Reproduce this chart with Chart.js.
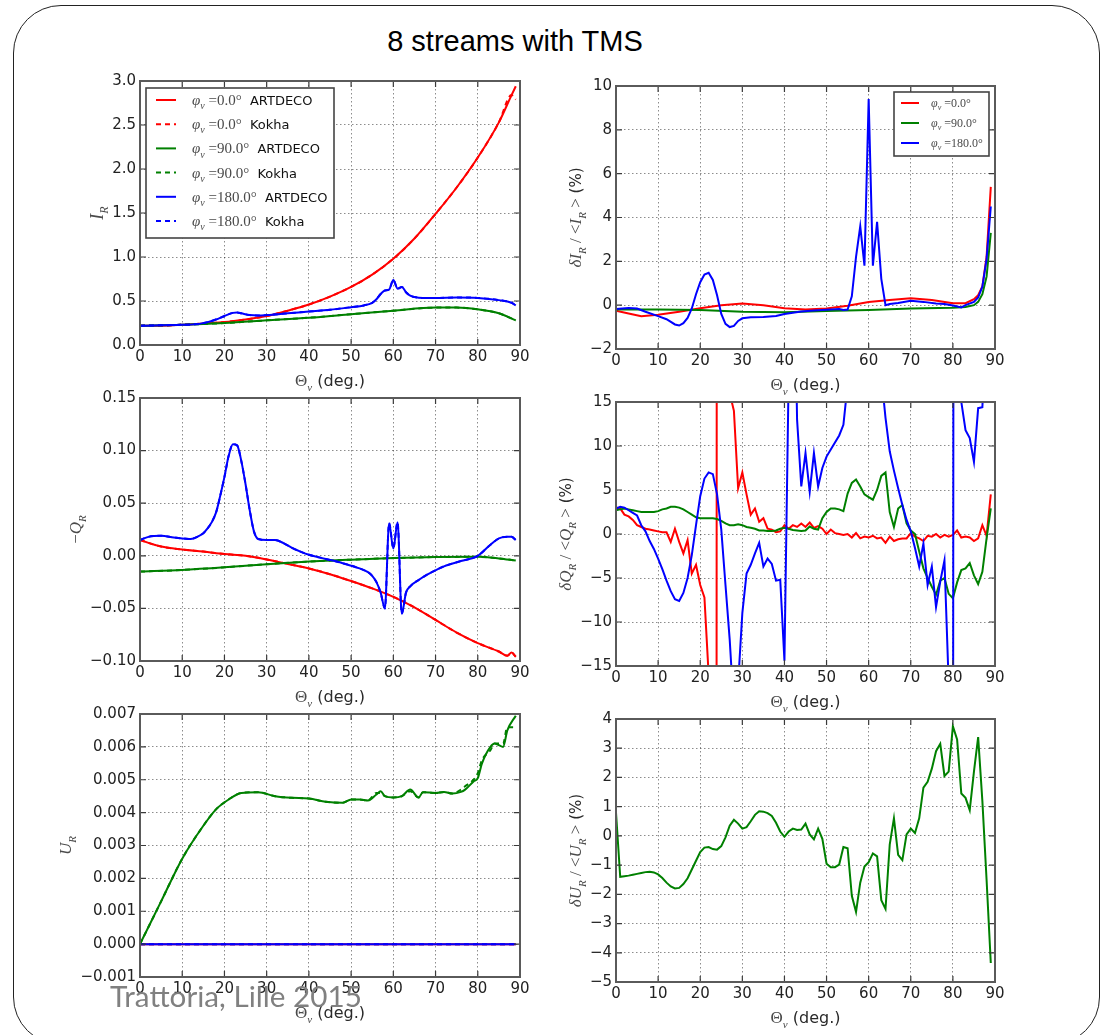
<!DOCTYPE html>
<html>
<head>
<meta charset="utf-8">
<title>8 streams with TMS</title>
<script src="https://cdn.jsdelivr.net/npm/chart.js@4.4.1/dist/chart.umd.min.js"></script>
<style>
  html, body { margin: 0; padding: 0; background: #fff; }
  #page { position: relative; width: 1103px; height: 1035px; overflow: hidden; background: #fff; }
  #frame { position: absolute; left: 13px; top: 5px; width: 1087px; height: 1040px;
           border: 1.5px solid #222; border-radius: 48px; box-sizing: border-box; }
  #title { position: absolute; left: 0; top: 27px; width: 1030px; text-align: center;
           font: 29px/29px "Liberation Sans", Arial, sans-serif; color: #000; }
  #footer { position: absolute; left: 110px; top: 980px; font: 28px/1.2 Lato, "Open Sans", sans-serif;
            color: #808080; white-space: nowrap; transform-origin: 0 0; z-index: 5; }
  canvas { position: absolute; z-index: 1; }
</style>
</head>
<body>
<div id="page">
  <div id="frame"></div>
  <div id="title">8 streams with TMS</div>
  <div id="footer">Trattoria, Lille 2015</div>
</div>
<script>
// ---------------------------------------------------------------------------
// Data: viewing zenith angle (deg) and the Stokes quantities for each azimuth
// ---------------------------------------------------------------------------
const THETA_1DEG = Array.from({ length: 90 }, (_, i) => i);

const PHI_VALUES = [0, 90, 180];
const PHI_LABELS = ['0.0', '90.0', '180.0'];
const MODELS = ['ARTDECO', 'Kokha'];

// I_R
const IR_RED_ANG = [0,5,10,15,20,25,30,35,40,45,50,55,60,65,70,75,80,85,88,89];
const IR_RED     = [0.22,0.22,0.23,0.245,0.26,0.29,0.33,0.39,0.46,0.55,0.66,0.80,0.98,1.21,1.49,1.79,2.13,2.53,2.84,2.94];
const IR_RED_K   = [0.22,0.22,0.23,0.245,0.26,0.29,0.33,0.39,0.46,0.55,0.66,0.80,0.98,1.21,1.49,1.79,2.13,2.53,2.84,2.79];
const IR_GRN_ANG = [0,10,20,30,40,50,60,70,75,80,85,89];
const IR_GRN     = [0.22,0.23,0.25,0.28,0.31,0.35,0.39,0.425,0.425,0.405,0.36,0.28];
const IR_BLU_ANG = [0,10,14,16,18,20,22,23,24,26,28,30,35,40,45,50,53,55,56,57,58,59,60,61,62,63,64,65,67,70,75,80,85,88,89];
const IR_BLU     = [0.22,0.23,0.24,0.26,0.29,0.33,0.365,0.37,0.36,0.34,0.335,0.34,0.36,0.38,0.40,0.43,0.45,0.48,0.52,0.58,
                    0.62,0.63,0.74,0.64,0.66,0.60,0.56,0.545,0.535,0.535,0.54,0.535,0.51,0.48,0.45];

// relative difference of I_R (%)
const DIR_RED_ANG = [0,3,6,10,15,20,25,30,35,40,45,50,55,60,65,70,75,80,83,85,86,87,88,89];
const DIR_RED     = [-0.25,-0.38,-0.5,-0.44,-0.3,-0.14,0.0,0.08,0.0,-0.14,-0.2,-0.15,-0.03,0.14,0.24,0.32,0.24,0.09,0.09,0.27,0.45,0.85,2.2,5.4];
const DIR_GRN_ANG = [0,10,20,30,40,50,60,70,80,83,85,86,87,88,89];
const DIR_GRN     = [-0.2,-0.2,-0.22,-0.3,-0.32,-0.27,-0.22,-0.15,-0.12,-0.08,0.0,0.15,0.5,1.3,3.3];
const DIR_BLU_ANG = [0,3,5,7,10,12,14,15,16,17,18,19,20,21,22,23,24,25,26,27,28,29,30,32,35,38,40,44,47,50,
                     53,54,55,56,57,58,59,60,61,62,63,64,65,67,70,73,76,78,80,82,83,85,86,87,88,89];
const DIR_BLU     = [-0.18,-0.13,-0.15,-0.3,-0.5,-0.64,-0.88,-0.93,-0.82,-0.58,-0.15,0.5,1.05,1.4,1.48,1.15,0.45,-0.4,-0.85,-1.0,
                     -0.95,-0.72,-0.6,-0.55,-0.54,-0.49,-0.4,-0.29,-0.24,-0.21,-0.18,-0.22,-0.2,0.4,2.2,3.6,1.8,9.4,1.8,3.8,
                     1.2,0.0,0.05,0.1,0.2,0.15,0.08,0.05,-0.02,-0.1,0.0,0.15,0.35,0.85,2.1,4.5];

// -Q_R
const QR_RED_ANG = [0,5,10,15,20,25,30,35,40,45,50,55,60,65,70,75,80,85,87,88,89];
const QR_RED     = [0.015,0.0088,0.006,0.004,0.0017,0.0,-0.0035,-0.0077,-0.012,-0.0175,-0.024,-0.031,-0.039,-0.049,-0.061,-0.073,-0.083,-0.091,-0.095,-0.092,-0.096];
const QR_GRN_ANG = [0,10,20,30,40,50,60,70,80,85,89];
const QR_GRN     = [-0.015,-0.0135,-0.011,-0.008,-0.0055,-0.0037,-0.0022,-0.0012,-0.001,-0.0025,-0.0045];
const QR_BLU_ANG = [0,2,5,8,12,14,15,16,17,18,19,20,21,22,23,24,25,26,27,28,30,32,34,36,38,40,44,48,52,54,
                    55,56,57,58,59,60,61,62,63,64,66,68,72,76,80,83,85,87,88,89];
const QR_BLU     = [0.015,0.018,0.019,0.0175,0.016,0.019,0.0215,0.026,0.032,0.041,0.057,0.075,0.095,0.106,0.105,0.09,0.068,0.043,0.023,0.016,
                    0.015,0.015,0.012,0.0075,0.004,0.001,-0.003,-0.007,-0.012,-0.0156,-0.019,-0.025,-0.035,-0.05,0.031,0.007,0.032,-0.055,-0.035,-0.029,
                    -0.023,-0.018,-0.01,-0.005,0.0,0.0105,0.0165,0.018,0.018,0.015];

// relative difference of Q_R (%), one value per degree
const DQ_RED = [3.0,2.9,2.2,2.0,1.6,1.0,0.8,0.6,0.5,0.4,
                0.3,0.2,0.2,-0.9,0.6,-0.9,-2.2,-0.7,-4.5,-3.5,
                -5.8,-7.2,-16,-900,100,60,25,16,14,5.2,
                7.0,4.5,2.2,2.9,1.4,1.8,0.6,0.5,0.2,0.3,
                1.0,0.6,1.0,0.8,1.2,0.8,1.3,0.7,0.9,0.6,
                0.0,0.5,0.1,0.0,-0.1,0.0,-0.4,0.1,-0.5,-0.3,
                -0.4,-0.2,-0.5,-0.4,-1.0,-0.3,-0.8,-0.6,-0.5,-0.5,
                0.1,-0.3,-0.5,-0.8,-0.2,-0.3,0.0,-0.4,-0.1,-0.3,
                -0.1,0.4,-0.4,-0.3,-0.4,-0.8,-0.5,1.0,-0.2,4.5];
const DQ_GRN = [2.7,2.8,2.9,2.8,2.7,2.6,2.5,2.5,2.5,2.5,
                2.6,2.8,2.9,3.1,3.1,3.0,2.8,2.5,2.2,1.9,
                1.8,1.8,1.8,1.8,1.7,1.5,1.2,1.0,1.0,1.1,
                1.0,0.8,0.7,0.6,0.4,0.4,0.35,0.35,0.4,0.6,
                0.7,0.6,0.45,0.4,0.35,0.4,0.85,0.6,0.5,1.8,
                2.5,2.9,2.9,2.8,2.6,4.6,5.8,6.2,5.4,4.5,
                4.2,3.9,5.0,6.6,7.0,2.5,0.8,2.9,3.3,1.2,
                0.4,0.0,-2.0,-3.9,-5.0,-6.0,-6.9,-5.3,-5.0,-6.8,
                -7.3,-5.5,-4.1,-3.9,-3.3,-4.7,-5.7,-4.3,-0.5,2.9];
const DQ_BLU = [2.9,3.1,3.0,2.7,2.4,2.1,1.0,0.3,-0.8,-1.7,
                -2.8,-4.0,-5.3,-6.5,-7.4,-7.6,-6.7,-5.0,-2.4,1.0,
                4.3,6.3,7.0,6.8,4.5,0.5,-5.8,-12,-20,-17,
                -9,-4.5,-3.5,-2.2,-1.0,-3.7,-2.8,-3.4,-5.3,-5.2,
                -14.4,18,40,13,5.4,9.2,4.8,9.2,5.4,7.5,
                8.8,9.6,10.4,11.2,12.4,17,25,35,45,60,
                45,35,25,18,13.2,9.4,7.2,5.2,3.3,1.6,
                0.3,-1.6,-3.7,-1.1,-5.8,-3.7,-8.3,-5.4,-3.0,-17,
                -60,600,15,11.8,10.9,8.2,14.3,14.4,25,40];

// U_R
const UR_GRN_ANG = [0,5,10,15,18,21,24,28,32,36,40,44,48,50,52,54,56,57,58,60,62,64,66,67,70,72,74,76,77,79,80,81,83,84,86,87,89];
const UR_GRN     = [0,0.0013,0.0026,0.0036,0.0041,0.0044,0.0046,0.00462,0.0045,0.00445,
                    0.00443,0.00433,0.0043,0.0044,0.0044,0.00437,0.00455,0.00465,0.0045,0.00446,
                    0.0045,0.0047,0.00446,0.00462,0.0046,0.00463,0.00458,0.00463,0.0047,0.00495,
                    0.00505,0.0055,0.006,0.0061,0.006,0.0065,0.00695];
const UR_GRN_K   = [0,0.0013,0.0026,0.0036,0.0041,0.0044,0.0046,0.00462,0.0045,0.00445,
                    0.00443,0.00433,0.0043,0.0044,0.0044,0.00437,0.0046,0.0046,0.0045,0.00446,
                    0.0045,0.00465,0.00446,0.00462,0.0046,0.00463,0.00458,0.0047,0.0048,0.005,
                    0.0052,0.0056,0.0059,0.0061,0.0061,0.0066,0.0066];
const UR_ZERO_ANG = [0, 89];
const UR_ZERO     = [0, 0];

// relative difference of U_R (%), one value per degree
const DU_GRN = [0.8,-1.4,-1.38,-1.36,-1.33,-1.3,-1.27,-1.24,-1.23,-1.25,
                -1.32,-1.44,-1.6,-1.73,-1.8,-1.78,-1.65,-1.45,-1.15,-0.85,
                -0.55,-0.4,-0.38,-0.45,-0.47,-0.35,-0.05,0.35,0.55,0.42,
                0.25,0.3,0.5,0.72,0.84,0.83,0.78,0.68,0.45,0.15,
                -0.03,0.15,0.25,0.2,0.22,0.42,0.05,-0.12,0.25,-0.1,
                -0.95,-1.07,-1.07,-0.98,-0.38,-0.42,-2.05,-2.6,-1.6,-1.05,
                -0.9,-0.6,-0.7,-2.2,-2.5,-0.3,0.6,-0.65,-0.83,0.05,
                0.25,0.1,0.6,1.65,1.85,2.3,2.9,3.15,2.05,2.2,
                3.75,3.3,1.45,1.3,0.88,2.2,3.38,1.2,-1.5,-4.35];

// ---------------------------------------------------------------------------
// Styles
// ---------------------------------------------------------------------------
const COLORS = { 0: '#ff0000', 90: '#008000', 180: '#0000ff' };
const MATH = '"Liberation Serif", "DejaVu Serif", serif';
const SANS = '"DejaVu Sans", "Liberation Sans", sans-serif';
const MATH_C = '#4a4a4a';
const SANS_C = '#2a2a2a';
const TICK_FONT = { family: 'DejaVu Sans', size: 15 };
const TICK_C = '#222';
const FRAME_C = '#5a5a5a';
const GRID_C = 'rgba(0,0,0,0.45)';
const LINE_W = 2;
const Y_W = 100, X_H = 48, PAD_T = 14, PAD_R = 16;

// rich-text pieces (math italics, subscripts, plain sans)
const m   = (t, s) => ({ t, s, c: MATH_C });
const mi  = (t, s) => ({ t, s, it: true, c: MATH_C });
const sub = (t, s) => ({ t, s, it: true, sub: true, c: MATH_C });
const sn  = (t, s, c) => ({ t, s, sans: true, c: c || SANS_C });

const X_TITLE = [m('Θ', 17), sub('v', 11), sn(' (deg.)', 16)];
const ratioTitle = (q) => [mi('δ' + q, 17), sub('R', 11), m(' / <', 17), mi(q, 17), sub('R', 11), m(' >', 17), sn(' (%)', 15)];

function segFont(sg) {
  return (sg.it ? 'italic ' : '') + sg.s + 'px ' + (sg.sans ? SANS : MATH);
}
function richWidth(ctx, segs) {
  let w = 0;
  for (const sg of segs) { ctx.font = segFont(sg); w += ctx.measureText(sg.t).width; }
  return w;
}
function drawRich(ctx, segs, x, y, align) {
  let cx = align === 'center' ? x - richWidth(ctx, segs) / 2 : x;
  ctx.textAlign = 'left';
  ctx.textBaseline = 'alphabetic';
  for (const sg of segs) {
    ctx.font = segFont(sg);
    ctx.fillStyle = sg.c;
    ctx.fillText(sg.t, cx, y + (sg.sub ? sg.s * 0.42 : 0));
    cx += ctx.measureText(sg.t).width;
  }
}
function fmt(v, d) {
  if (Math.abs(v) < 1e-12) v = 0;
  return v.toFixed(d).replace('-', '\u2212');
}

// frame, inward ticks, axis titles and boxed legend
const panelDecor = {
  id: 'panelDecor',
  afterDatasetsDraw(chart) {
    const { ctx, chartArea: a } = chart;
    const xs = chart.scales.x, ys = chart.scales.y;
    ctx.save();
    ctx.strokeStyle = '#3a3a3a';
    ctx.lineWidth = 1.2;
    ctx.beginPath();
    xs.ticks.forEach(t => {
      const p = xs.getPixelForValue(t.value);
      ctx.moveTo(p, a.bottom); ctx.lineTo(p, a.bottom - 6);
      ctx.moveTo(p, a.top); ctx.lineTo(p, a.top + 6);
    });
    ys.ticks.forEach(t => {
      const p = ys.getPixelForValue(t.value);
      ctx.moveTo(a.left, p); ctx.lineTo(a.left + 6, p);
      ctx.moveTo(a.right, p); ctx.lineTo(a.right - 6, p);
    });
    ctx.stroke();
    ctx.strokeStyle = FRAME_C;
    ctx.lineWidth = 2;
    ctx.strokeRect(a.left, a.top, a.right - a.left, a.bottom - a.top);
    ctx.restore();
  },
  afterDraw(chart, args, opts) {
    const { ctx, chartArea: a } = chart;
    const ys = chart.scales.y;
    ctx.save();
    // x title
    drawRich(ctx, X_TITLE, (a.left + a.right) / 2, a.bottom + 41, 'center');
    // y title, left of the widest tick label
    ctx.font = TICK_FONT.size + 'px ' + SANS;
    let maxW = 0;
    ys.ticks.forEach(t => { maxW = Math.max(maxW, ctx.measureText(t.label).width); });
    const cx = a.left - 4 - maxW - 15;
    ctx.translate(cx, (a.top + a.bottom) / 2);
    ctx.rotate(-Math.PI / 2);
    drawRich(ctx, opts.yTitle, 0, 6, 'center');
    ctx.restore();

    const lg = opts.legend;
    if (!lg) return;
    const bx = lg.anchor === 'tr' ? a.right - lg.dx - lg.w : a.left + lg.dx;
    const by = a.top + lg.dy;
    ctx.save();
    ctx.fillStyle = '#fff';
    ctx.fillRect(bx, by, lg.w, lg.h);
    ctx.strokeStyle = '#444';
    ctx.lineWidth = 1.6;
    ctx.strokeRect(bx, by, lg.w, lg.h);
    chart.data.datasets.forEach((ds, i) => {
      const y = by + lg.row0 + i * lg.rowH;
      ctx.save();
      ctx.strokeStyle = ds.borderColor;
      ctx.lineWidth = 2;
      ctx.setLineDash(ds.borderDash || []);
      ctx.beginPath();
      ctx.moveTo(bx + lg.lx0, y);
      ctx.lineTo(bx + lg.lx1, y);
      ctx.stroke();
      ctx.restore();
      const ms = lg.mathSize;
      const segs = [mi('φ', ms), sub('v', Math.round(ms * 0.68)), m(' =' + ds.phiLabel + '°', ms)];
      if (lg.model) segs.push(sn('  ' + ds.model, 13, '#111'));
      drawRich(ctx, segs, bx + lg.tx, y + ms * 0.33, 'left');
    });
    ctx.restore();
  }
};

// ---------------------------------------------------------------------------
// Panels
// ---------------------------------------------------------------------------
const series = (phiIdx, model, ang, val) => ({ phiIdx, model, ang, val });

const PANELS = [
  { rect: [140, 81, 520, 345], y: { min: 0, max: 3, step: 0.5, dec: 1 }, yTitle: [mi('I', 18), sub('R', 12)],
    smooth: true,
    series: [series(0, 'ARTDECO', IR_RED_ANG, IR_RED), series(0, 'Kokha', IR_RED_ANG, IR_RED_K),
             series(1, 'ARTDECO', IR_GRN_ANG, IR_GRN), series(1, 'Kokha', IR_GRN_ANG, IR_GRN),
             series(2, 'ARTDECO', IR_BLU_ANG, IR_BLU), series(2, 'Kokha', IR_BLU_ANG, IR_BLU)],
    legend: { anchor: 'tl', dx: 6, dy: 7, w: 188, h: 150, row0: 12, rowH: 24.2, lx0: 10, lx1: 30, tx: 46, mathSize: 15, model: true } },
  { rect: [616, 86, 995, 349], y: { min: -2, max: 10, step: 2, dec: 0 }, yTitle: ratioTitle('I'),
    smooth: false,
    series: [series(0, 'ARTDECO', DIR_RED_ANG, DIR_RED), series(1, 'ARTDECO', DIR_GRN_ANG, DIR_GRN),
             series(2, 'ARTDECO', DIR_BLU_ANG, DIR_BLU)],
    legend: { anchor: 'tr', dx: 6, dy: 6, w: 95, h: 64, row0: 11, rowH: 20, lx0: 7, lx1: 25, tx: 37, mathSize: 12, model: false } },
  { rect: [140, 398, 520, 661], y: { min: -0.1, max: 0.15, step: 0.05, dec: 2 }, yTitle: [m('−', 17), mi('Q', 17), sub('R', 11)],
    smooth: true,
    series: [series(0, 'ARTDECO', QR_RED_ANG, QR_RED), series(0, 'Kokha', QR_RED_ANG, QR_RED),
             series(1, 'ARTDECO', QR_GRN_ANG, QR_GRN), series(1, 'Kokha', QR_GRN_ANG, QR_GRN),
             series(2, 'ARTDECO', QR_BLU_ANG, QR_BLU), series(2, 'Kokha', QR_BLU_ANG, QR_BLU)] },
  { rect: [616, 402, 995, 666], y: { min: -15, max: 15, step: 5, dec: 0 }, yTitle: ratioTitle('Q'),
    smooth: false,
    series: [series(0, 'ARTDECO', THETA_1DEG, DQ_RED), series(1, 'ARTDECO', THETA_1DEG, DQ_GRN),
             series(2, 'ARTDECO', THETA_1DEG, DQ_BLU)] },
  { rect: [140, 714, 520, 977], y: { min: -0.001, max: 0.007, step: 0.001, dec: 3 }, yTitle: [mi('U', 17), sub('R', 11)],
    smooth: true,
    series: [series(0, 'ARTDECO', UR_ZERO_ANG, UR_ZERO), series(0, 'Kokha', UR_ZERO_ANG, UR_ZERO),
             series(1, 'ARTDECO', UR_GRN_ANG, UR_GRN), series(1, 'Kokha', UR_GRN_ANG, UR_GRN_K),
             series(2, 'ARTDECO', UR_ZERO_ANG, UR_ZERO), series(2, 'Kokha', UR_ZERO_ANG, UR_ZERO)] },
  { rect: [616, 719, 995, 982], y: { min: -5, max: 4, step: 1, dec: 0 }, yTitle: ratioTitle('U'),
    smooth: false,
    series: [series(1, 'ARTDECO', THETA_1DEG, DU_GRN)] }
];

const page = document.getElementById('page');

PANELS.forEach((p) => {
  const [L, T, R, B] = p.rect;
  const cv = document.createElement('canvas');
  cv.width = R - L + Y_W + PAD_R;
  cv.height = B - T + PAD_T + X_H;
  cv.style.left = (L - Y_W) + 'px';
  cv.style.top = (T - PAD_T) + 'px';
  cv.style.width = cv.width + 'px';
  cv.style.height = cv.height + 'px';
  page.appendChild(cv);

  const n = p.series.length;
  const datasets = p.series.map((s, i) => ({
    label: 'φv = ' + PHI_LABELS[s.phiIdx] + '° ' + s.model,
    phiLabel: PHI_LABELS[s.phiIdx],
    model: s.model,
    data: s.ang.map((a, k) => ({ x: a, y: s.val[k] })),
    borderColor: COLORS[PHI_VALUES[s.phiIdx]],
    borderDash: s.model === 'Kokha' ? [5, 4] : [],
    borderWidth: LINE_W,
    pointRadius: 0,
    fill: false,
    tension: 0,
    cubicInterpolationMode: p.smooth ? 'monotone' : 'default',
    order: n - i
  }));

  new Chart(cv, {
    type: 'line',
    data: { datasets },
    options: {
      responsive: false,
      animation: false,
      devicePixelRatio: 1,
      layout: { padding: { left: 0, top: PAD_T, right: PAD_R, bottom: 0 } },
      plugins: {
        legend: { display: false },
        tooltip: { enabled: false },
        panelDecor: { yTitle: p.yTitle, legend: p.legend || null }
      },
      scales: {
        x: {
          type: 'linear', min: 0, max: 90,
          ticks: { stepSize: 10, autoSkip: false, maxRotation: 0, padding: 3, font: TICK_FONT, color: TICK_C,
                   callback: v => fmt(v, 0) },
          grid: { color: GRID_C, lineWidth: 1, drawTicks: false },
          border: { display: false, dash: [1.5, 2.5] },
          afterFit: s => { s.height = X_H; }
        },
        y: {
          type: 'linear', min: p.y.min, max: p.y.max,
          ticks: { stepSize: p.y.step, autoSkip: false, padding: 4, font: TICK_FONT, color: TICK_C,
                   callback: v => fmt(v, p.y.dec) },
          grid: { color: GRID_C, lineWidth: 1, drawTicks: false },
          border: { display: false, dash: [1.5, 2.5] },
          afterFit: s => { s.width = Y_W; }
        }
      }
    },
    plugins: [panelDecor]
  });
});

// footer caption width
(function () {
  const f = document.getElementById('footer');
  const mctx = document.createElement('canvas').getContext('2d');
  mctx.font = '28px Lato';
  const w = mctx.measureText(f.textContent).width;
  if (w > 0) f.style.transform = 'scaleX(' + (252 / w).toFixed(3) + ')';
})();
</script>
</body>
</html>
